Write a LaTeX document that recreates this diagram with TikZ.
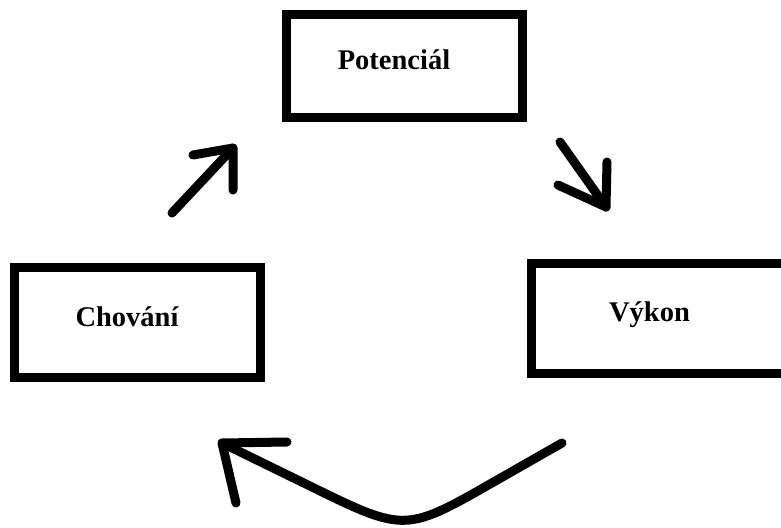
\documentclass[tikz,border=0pt]{standalone}
\usepackage{fontspec}
\setmainfont{Liberation Serif}
\begin{document}
\begin{tikzpicture}[x=1pt,y=-1pt,
  box/.style={draw=black, line width=9pt, fill=white, inner sep=0pt},
  lbl/.style={font=\fontsize{28.5pt}{34pt}\selectfont\bfseries, text=black, inner sep=0pt},
  stroke/.style={draw=black, line width=9pt, line cap=round, line join=round}]
\clip (0,0) rectangle (781,527);
\fill[white] (0,0) rectangle (781,527);
% boxes
\node[box, minimum width=236pt, minimum height=102.5pt,
  label={[lbl,xshift=-10.5pt,yshift=5.75pt]center:Potenciál}] (pot) at (404.5,65.75) {};
\node[box, minimum width=246pt, minimum height=110pt,
  label={[lbl,xshift=-10.5pt,yshift=5pt]center:Chování}] (cho) at (137.5,322) {};
\node[box, minimum width=258.5pt, minimum height=110pt,
  label={[lbl,xshift=-11.25pt,yshift=3.5pt]center:Výkon}] (vyk) at (660.75,318.5) {};
% arrow Chování -> Potenciál
\coordinate (a1s) at (172,213);
\coordinate (a1t) at (233,148);
\coordinate (a1h1) at (193,155);
\coordinate (a1h2) at (233,190);
\draw[stroke] (a1s) -- (a1t);
\draw[stroke] (a1h1) -- (a1t) -- (a1h2);
% arrow Potenciál -> Výkon
\coordinate (a2s) at (560,142);
\coordinate (a2t) at (606,207);
\coordinate (a2h1) at (558,185);
\coordinate (a2h2) at (607,162);
\draw[stroke] (a2s) -- (a2t);
\draw[stroke] (a2h1) -- (a2t) -- (a2h2);
% curved arrow Výkon -> Chování
\coordinate (a3s) at (562,443);
\coordinate (a3t) at (222,443);
\coordinate (a3h1) at (287,442);
\coordinate (a3h2) at (236,503);
\draw[stroke] (a3s) -- (475,492.6) .. controls (410.6,528.8) and (399,529.1) .. (330,495.8) -- (a3t);
\draw[stroke] (a3h1) -- (a3t) -- (a3h2);
\end{tikzpicture}
\end{document}
